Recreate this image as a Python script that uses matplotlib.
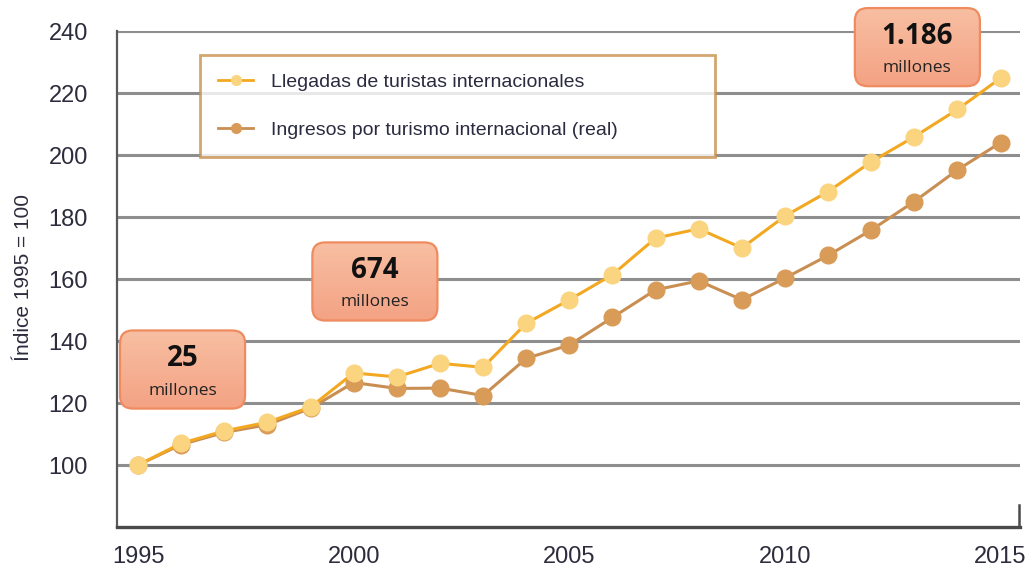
import numpy as np
import matplotlib
matplotlib.use("Agg")
import matplotlib.pyplot as plt
from matplotlib.patches import FancyBboxPatch
from matplotlib.lines import Line2D
from matplotlib.colors import LinearSegmentedColormap

years = np.arange(1995, 2016)
llegadas = [100, 107, 111, 113.8, 118.7, 129.7, 128.4, 132.8, 131.5, 145.7, 153.3,
            161.4, 173.2, 176.2, 170.0, 180.3, 188.2, 197.8, 205.9, 214.7, 224.8]
ingresos = [100, 106.6, 110.5, 113.0, 118.3, 126.6, 124.7, 124.8, 122.4, 134.4, 138.7,
            147.6, 156.5, 159.4, 153.3, 160.3, 167.6, 175.8, 185.0, 195.2, 204.0]
series_labels = ["Llegadas de turistas internacionales",
                 "Ingresos por turismo internacional (real)"]
box_numbers = ["25", "674", "1.186"]
box_unit = "millones"
y_ticks = [100, 120, 140, 160, 180, 200, 220, 240]
x_ticks = [1995, 2000, 2005, 2010, 2015]

# box layout (center year, center value) -- placement only
box_pos = [(1996.03, 130.8), (2000.49, 159.2), (2013.07, 234.8)]
box_w, box_h = 2.9, 25.2

plt.rcParams['font.family'] = ['Liberation Sans', 'DejaVu Sans']

fig = plt.figure(figsize=(10.32, 5.74), dpi=100)
ax = fig.add_axes([117 / 1032, 1 - 527 / 574, (1020 - 117) / 1032, (527 - 31) / 574])
ax.set_xlim(1994.51, 2015.45)
ax.set_ylim(80, 240)

grid_col = '#8e8e8e'
for v in y_ticks:
    ax.axhline(v, color=grid_col, lw=2.2, zorder=1)

c_lleg_line, c_lleg_mk = '#F3A822', '#FAD47F'
c_ing_line, c_ing_mk = '#C98E52', '#D99B58'

ax.plot(years, ingresos, color=c_ing_line, lw=2.2, marker='o', ms=12,
        mfc=c_ing_mk, mec=c_ing_mk, zorder=3, label=series_labels[1])
ax.plot(years, llegadas, color=c_lleg_line, lw=2.2, marker='o', ms=12,
        mfc=c_lleg_mk, mec=c_lleg_mk, zorder=4, label=series_labels[0])

for s in ['top', 'right']:
    ax.spines[s].set_visible(False)
ax.spines['left'].set_color('#5a5a5a')
ax.spines['left'].set_linewidth(1.6)
ax.spines['bottom'].set_color('#4a4a4a')
ax.spines['bottom'].set_linewidth(2.4)
ax.plot([2015.43, 2015.43], [80, 87], color='#4a4a4a', lw=1.8, clip_on=False, zorder=5)

ax.set_yticks(y_ticks)
ax.set_xticks(x_ticks)
ax.tick_params(axis='both', length=0, labelsize=17, labelcolor='#2c2c3c')
ax.tick_params(axis='y', pad=21)
ax.tick_params(axis='x', pad=14)
ax.set_ylabel('Índice 1995 = 100', fontsize=15, color='#2c2c3c')
ax.yaxis.set_label_coords(-0.093, 0.503)

# legend
handles = [Line2D([], [], color=c_lleg_line, lw=2.0, marker='o', ms=7, mfc=c_lleg_mk, mec=c_lleg_mk),
           Line2D([], [], color=c_ing_line, lw=2.0, marker='o', ms=7, mfc=c_ing_mk, mec=c_ing_mk)]
leg = ax.legend(handles, series_labels, loc='upper left',
                bbox_to_anchor=(200 / 1032, 1 - 158 / 574, 515 / 1032, 103 / 574),
                bbox_transform=fig.transFigure, mode='expand', fontsize=14,
                frameon=True, fancybox=False, handlelength=1.8, handletextpad=0.9,
                labelspacing=1.55, borderpad=0.95, borderaxespad=0, labelcolor='#2a2a40')
leg.get_frame().set_edgecolor('#C8904A')
leg.get_frame().set_linewidth(2.0)
leg.get_frame().set_facecolor('white')
leg.set_zorder(6)

# annotation boxes with vertical gradient
px_x = (1020 - 117) / (2015.45 - 1994.51)
px_y = (527 - 31) / 160.0
grad = np.linspace(0, 1, 64).reshape(-1, 1)
box_cmap = LinearSegmentedColormap.from_list('b', ['#F4A284', '#F8BFA2'])
for (cx, cy), num in zip(box_pos, box_numbers):
    x0, y0 = cx - box_w / 2, cy - box_h / 2
    patch = FancyBboxPatch((x0, y0), box_w, box_h,
                           boxstyle='round,pad=0,rounding_size=0.3',
                           mutation_aspect=px_x / px_y,
                           fc='none', ec='#EF8B5E', lw=1.6, zorder=8, clip_on=False)
    ax.add_patch(patch)
    im = ax.imshow(grad, extent=(x0, x0 + box_w, y0, y0 + box_h), origin='lower',
                   cmap=box_cmap, aspect='auto', zorder=7)
    im.set_clip_box(fig.bbox)
    im.set_clip_path(patch)
    ax.text(cx, cy + 11 / px_y, num, ha='center', va='center', fontsize=20,
            fontweight='bold', family=['Open Sans', 'DejaVu Sans'], color='#111111', zorder=9)
    ax.text(cx, cy - 21 / px_y, box_unit, ha='center', va='center', fontsize=12.5,
            family=['Open Sans', 'DejaVu Sans'], color='#222222', zorder=9)

ax.set_xlim(1994.51, 2015.45)
ax.set_ylim(80, 240)

fig.savefig('out.png', dpi=100)
